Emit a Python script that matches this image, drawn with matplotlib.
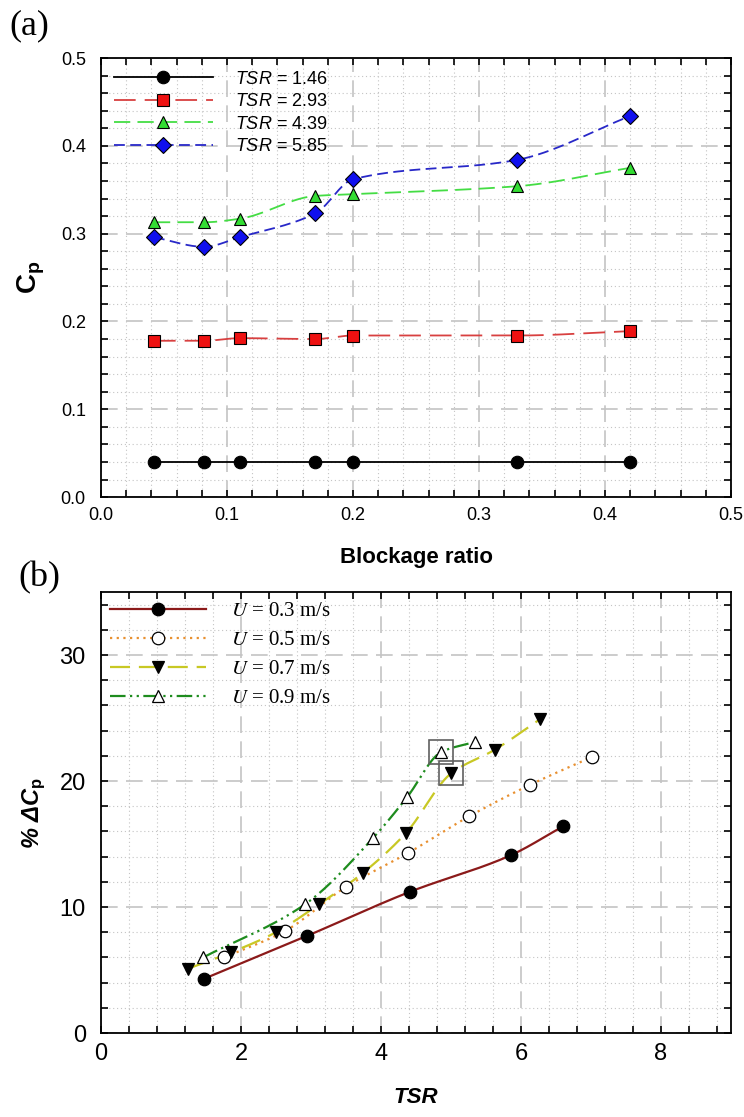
import numpy as np
import matplotlib
matplotlib.use("Agg")
import matplotlib.pyplot as plt
from matplotlib.lines import Line2D
from matplotlib.ticker import MultipleLocator, FormatStrFormatter

# (a) Cp vs blockage ratio
blockage = [0.042, 0.082, 0.11, 0.17, 0.2, 0.33, 0.42]
tsr_labels = ['1.46', '2.93', '4.39', '5.85']
cp_146 = [0.040, 0.040, 0.040, 0.040, 0.040, 0.040, 0.040]
cp_293 = [0.178, 0.178, 0.181, 0.180, 0.184, 0.184, 0.189]
cp_439 = [0.313, 0.313, 0.317, 0.343, 0.345, 0.354, 0.375]
cp_585 = [0.296, 0.285, 0.296, 0.323, 0.362, 0.384, 0.434]

# (b) % delta Cp vs TSR
u_labels = ['0.3', '0.5', '0.7', '0.9']
tsr_u03 = [1.47, 2.94, 4.41, 5.85, 6.60]
dcp_u03 = [4.3, 7.7, 11.2, 14.1, 16.4]
tsr_u05 = [1.76, 2.63, 3.50, 4.39, 5.26, 6.13, 7.01]
dcp_u05 = [6.0, 8.1, 11.6, 14.3, 17.2, 19.7, 21.9]
tsr_u07 = [1.24, 1.86, 2.50, 3.11, 3.74, 4.36, 5.00, 5.63, 6.27]
dcp_u07 = [5.1, 6.4, 8.0, 10.2, 12.7, 15.9, 20.6, 22.5, 24.9]
tsr_u09 = [1.46, 2.91, 3.89, 4.37, 4.86, 5.34]
dcp_u09 = [6.0, 10.2, 15.5, 18.7, 22.3, 23.1]
# highlighted points (boxed)
box_x = [4.86, 5.00]
box_y = [22.3, 20.6]


def smooth(x, y, n=300):
    # monotone cubic (pchip) used only to draw the connecting curve
    x = np.asarray(x, float)
    y = np.asarray(y, float)
    h = np.diff(x)
    dl = np.diff(y) / h
    m = np.zeros(len(x))
    m[0], m[-1] = dl[0], dl[-1]
    for i in range(1, len(x) - 1):
        if dl[i - 1] * dl[i] > 0:
            w1 = 2 * h[i] + h[i - 1]
            w2 = h[i] + 2 * h[i - 1]
            m[i] = (w1 + w2) / (w1 / dl[i - 1] + w2 / dl[i])
    xs = np.linspace(x[0], x[-1], n)
    idx = np.clip(np.searchsorted(x, xs) - 1, 0, len(x) - 2)
    t = (xs - x[idx]) / h[idx]
    h00 = 2 * t ** 3 - 3 * t ** 2 + 1
    h10 = t ** 3 - 2 * t ** 2 + t
    h01 = -2 * t ** 3 + 3 * t ** 2
    h11 = t ** 3 - t ** 2
    ys = (h00 * y[idx] + h10 * h[idx] * m[idx] + h01 * y[idx + 1]
          + h11 * h[idx] * m[idx + 1])
    return xs, ys


def style_axes(ax, xmaj, xmin, ymaj, ymin, size):
    ax.xaxis.set_major_locator(MultipleLocator(xmaj))
    ax.xaxis.set_minor_locator(MultipleLocator(xmin))
    ax.yaxis.set_major_locator(MultipleLocator(ymaj))
    ax.yaxis.set_minor_locator(MultipleLocator(ymin))
    ax.grid(which='major', color='#c4c4c4', lw=1.2, ls=(0, (10, 5)))
    ax.grid(which='minor', color='#c4c4c4', lw=0.8, ls=(0, (1, 2.5)))
    ax.set_axisbelow(True)
    ax.tick_params(which='both', direction='in', top=True, right=True,
                   length=5, width=1.2, labelsize=size, pad=7)
    ax.tick_params(axis='y', pad=11)
    for s in ax.spines.values():
        s.set_linewidth(1.3)


plt.rcParams['font.family'] = ['Liberation Sans', 'DejaVu Sans']
plt.rcParams['mathtext.fontset'] = 'custom'
plt.rcParams['mathtext.rm'] = 'Liberation Sans'
plt.rcParams['mathtext.it'] = 'Liberation Sans:italic'
plt.rcParams['mathtext.bf'] = 'Liberation Sans:bold'

fig = plt.figure(figsize=(7.44, 11.17), dpi=100)

# ---------- (a) ----------
ax1 = fig.add_axes([0.1358, 0.555, 0.8468, 0.393])
series_a = [
    (cp_146, 'black', 'black', 'o', '-', 9),
    (cp_293, '#d84040', '#ee1111', 's', (0, (12, 5)), 8),
    (cp_439, '#44dd44', '#33dd33', '^', (0, (9, 4)), 9),
    (cp_585, '#2828c8', '#1010ee', 'D', (0, (6, 3)), 8),
]
handles = []
for (vals, lc, mc, mk, ls, ms), lab in zip(series_a, tsr_labels):
    xs, ys = smooth(blockage, vals)
    ax1.plot(xs, ys, color=lc, lw=1.3, ls=ls, zorder=3)
    ax1.plot(blockage, vals, ls='none', marker=mk, ms=ms, mfc=mc,
             mec='black', mew=0.8, zorder=4)
    handles.append(Line2D([], [], color=lc, lw=1.3, ls=ls, marker=mk, ms=ms,
                          mfc=mc, mec='black', mew=0.8,
                          label='$\\it{TSR}$ = ' + lab))
ax1.set_xlim(0, 0.5)
ax1.set_ylim(0, 0.5)
style_axes(ax1, 0.1, 0.02, 0.1, 0.02, 13)
ax1.xaxis.set_major_formatter(FormatStrFormatter('%.1f'))
ax1.yaxis.set_major_formatter(FormatStrFormatter('%.1f'))
ax1.set_xlabel('Blockage ratio', fontsize=16, fontweight='bold', labelpad=17)
ax1.set_ylabel('$\\mathbf{C}_{\\mathbf{p}}$', fontsize=20, labelpad=10)
ax1.legend(handles=handles, loc='upper left', frameon=False, fontsize=13,
           handlelength=5.5, handletextpad=1.2, labelspacing=0.3,
           borderaxespad=0.3, numpoints=1)
fig.text(0.012, 0.977, '(a)', fontsize=26, family='Liberation Serif',
         va='center')

# ---------- (b) ----------
ax2 = fig.add_axes([0.1358, 0.0752, 0.8468, 0.3948])
series_b = [
    (tsr_u03, dcp_u03, '#8b1a1a', 'o', 'black', '-', 9),
    (tsr_u05, dcp_u05, '#e89030', 'o', 'white', (0, (1, 2)), 9),
    (tsr_u07, dcp_u07, '#c8c824', 'v', 'black', (0, (9, 4)), 9),
    (tsr_u09, dcp_u09, '#1e8c1e', '^', 'white', (0, (7, 2, 1, 2, 1, 2)), 9),
]
handles = []
for (xv, yv, lc, mk, mc, ls, ms), lab in zip(series_b, u_labels):
    xs, ys = smooth(xv, yv)
    ax2.plot(xs, ys, color=lc, lw=1.6, ls=ls, zorder=3)
    ax2.plot(xv, yv, ls='none', marker=mk, ms=ms, mfc=mc, mec='black',
             mew=0.9, zorder=4)
    handles.append(Line2D([], [], color=lc, lw=1.6, ls=ls, marker=mk, ms=ms,
                          mfc=mc, mec='black', mew=0.9,
                          label='$U$ = ' + lab + ' m/s'))
ax2.plot(box_x, box_y, ls='none', marker='s', ms=17, mfc='none',
         mec='#606060', mew=1.2, zorder=5)
ax2.set_xlim(0, 9)
ax2.set_ylim(0, 35)
style_axes(ax2, 2, 0.4, 10, 2, 17)
ax2.set_xlabel('TSR', fontsize=16, fontweight='bold', style='italic',
               labelpad=16)
ax2.set_ylabel('% \u0394C$_{\\mathbf{p}}$', fontsize=17,
               fontweight='bold', style='italic', labelpad=8)
leg = ax2.legend(handles=handles, loc='upper left', frameon=False,
                 handlelength=4.6, handletextpad=1.2,
                 labelspacing=0.45, borderaxespad=0.15, borderpad=0.3,
                 numpoints=1,
                 prop={'family': 'Liberation Serif', 'size': 15})
for t in leg.get_texts():
    t.set_math_fontfamily('stix')
fig.text(0.025, 0.483, '(b)', fontsize=26, family='Liberation Serif',
         va='center')

fig.savefig('out.png', dpi=100)
